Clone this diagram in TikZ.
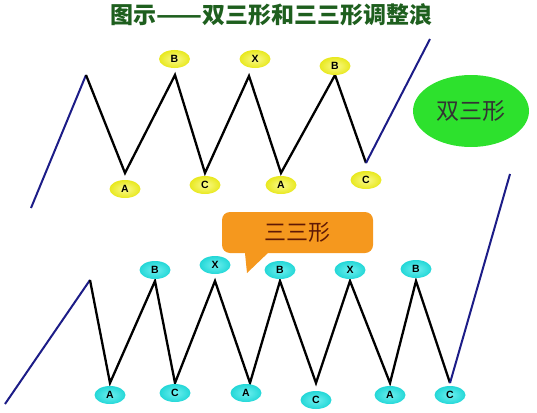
\documentclass[tikz,border=0pt]{standalone}
\usepackage{fontspec}
\setmainfont{Liberation Sans}
\newfontfamily\cjk{Noto Sans CJK SC}
\usetikzlibrary{shapes.geometric}
\definecolor{titlegreen}{RGB}{30,95,30}
\definecolor{wavenavy}{RGB}{28,28,135}
\definecolor{labyellow}{RGB}{232,232,30}
\definecolor{labyellowhi}{RGB}{250,250,140}
\definecolor{labcyan}{RGB}{35,215,215}
\definecolor{labcyanhi}{RGB}{110,240,240}
\definecolor{blobgreen}{RGB}{45,225,45}
\definecolor{calloutorange}{RGB}{245,152,30}
\definecolor{callouttext}{RGB}{95,25,5}
\tikzset{
  wave/.style={line width=2.3pt, line join=miter},
  trend/.style={line width=2pt, draw=wavenavy},
  ylab/.style={ellipse, shade, shading=radial, inner color=labyellowhi, outer color=labyellow,
    minimum width=31pt, minimum height=18pt, inner sep=0pt, font=\bfseries\fontsize{10.5}{10.5}\selectfont},
  clab/.style={ylab, inner color=labcyanhi, outer color=labcyan},
}
\begin{document}
\begin{tikzpicture}[x=1pt,y=-1pt]
\useasboundingbox (0,0) rectangle (537,412);
\node[font=\cjk\bfseries\fontsize{23}{23}\selectfont, text=titlegreen] (title) at (271,15)
  {图示\resizebox{46pt}{\height}{——}双三形和三三形调整浪};
% double three
\foreach \n/\x/\y in {0/31/208,1/86/75,2/125/173,3/175/75,4/205/173,5/249/76,6/281/173,7/335/75,8/366/163,9/430/39}
  \coordinate (t\n) at (\x,\y);
\draw[trend] (t0) -- (t1);
\draw[wave] (t1) \foreach \n in {2,...,8} {-- (t\n)};
\draw[trend] (t8) -- (t9);
\foreach \n/\t/\x/\y in {1/A/125/189,2/B/174.5/59,3/C/205/185,4/X/255/59,5/A/281/185,6/B/335/66,7/C/366/180}
  \node[ylab] (tl\n) at (\x,\y) {\t};
\node[ellipse, fill=blobgreen, minimum width=116pt, minimum height=72pt, text=black!80,
  font=\cjk\fontsize{23}{23}\selectfont] (double) at (471,111) {\raisebox{-3pt}{双三形}};
% triple three
\foreach \n/\x/\y in {0/5/404,1/90/280,2/110/383,3/155/281,4/175/383,5/215/281,6/250/383,7/280/281,8/316/383,9/350/281,10/390/383,11/416/281,12/450/383,13/510/174}
  \coordinate (b\n) at (\x,\y);
\draw[trend] (b0) -- (b1);
\draw[wave] (b1) \foreach \n in {2,...,12} {-- (b\n)};
\draw[trend] (b12) -- (b13);
\foreach \n/\t/\x/\y in {1/A/110/395,2/B/155/270,3/C/175/393,4/X/215/265,5/A/246/393,6/B/280/270,7/C/316/400,8/X/350/270,9/A/390/395,10/B/416/269,11/C/450/395}
  \node[clab] (bl\n) at (\x,\y) {\t};
\node[fill=calloutorange, rounded corners=8pt, minimum width=151pt, minimum height=41pt, text=callouttext,
  font=\cjk\fontsize{22}{22}\selectfont] (triple) at (297.5,232.5) {\raisebox{-4pt}{三三形}};
\coordinate (tip) at (247,273);
\fill[calloutorange] ([xshift=23pt,yshift=2pt]triple.south west) -- (tip) -- ([xshift=48pt,yshift=2pt]triple.south west) -- cycle;
\end{tikzpicture}
\end{document}
